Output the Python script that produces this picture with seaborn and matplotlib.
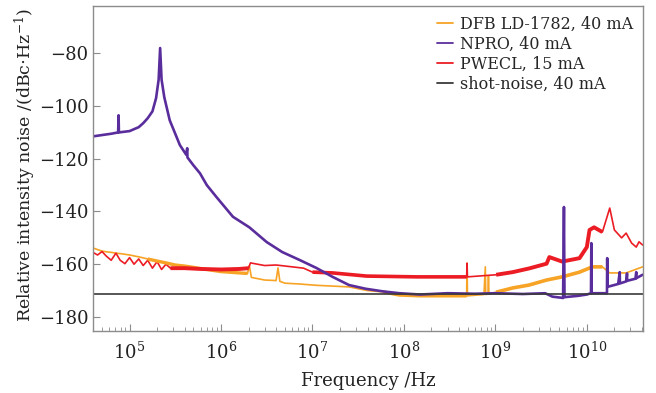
import numpy as np
import pandas as pd
import matplotlib
matplotlib.use("Agg")
import matplotlib.pyplot as plt
import matplotlib.ticker as mticker
from matplotlib.lines import Line2D
import seaborn as sns

# values (frequency in Hz, RIN in dBc/Hz)
dfb_f = [3.98e4, 4.5e4, 5.0e4, 5.6e4, 6.3e4, 7.1e4, 8e4, 1.0e5, 1.26e5, 1.58e5,
         2.0e5, 2.5e5, 3.16e5, 4e5, 5e5, 7e5, 1e6, 1.58e6, 1.95e6, 2.04e6,
         2.15e6, 3e6, 4.0e6, 4.2e6, 4.4e6, 5e6, 7.2e6, 1.1e7, 1.66e7, 2.5e7,
         4e7, 5.9e7, 8.9e7, 1.5e8, 3e8, 4.85e8, 4.9e8, 4.95e8, 7.5e8, 7.76e8,
         7.85e8, 8.3e8, 8.4e8, 8.5e8, 1.02e9, 1.55e9, 2.34e9, 3.63e9, 5.37e9, 8.32e9,
         1.15e10, 1.48e10, 1.78e10, 2.69e10, 4.07e10]
dfb_rin = [-153.8, -154.5, -155.0, -155.3, -155.5, -155.8, -156.0, -156.5, -157.2, -158.0,
           -158.8, -159.5, -160.3, -160.7, -161.2, -162.0, -162.8, -163.3, -163.5, -160.5,
           -165.0, -166.0, -166.2, -161.4, -166.5, -167.2, -167.5, -168.0, -168.3, -168.6,
           -170.0, -170.5, -171.7, -172.0, -172.0, -172.0, -159.6, -172.0, -171.5, -161.0,
           -171.5, -171.3, -164.5, -171.3, -170.6, -169.0, -167.9, -166.0, -164.8, -163.0,
           -161.0, -161.0, -163.3, -163.3, -161.0]

npro_f = [3.98e4, 5.0e4, 6.3e4, 7.5e4, 7.59e4, 7.65e4, 1.0e5, 1.26e5, 1.41e5, 1.58e5,
          1.78e5, 1.95e5, 2.08e5, 2.16e5, 2.24e5, 2.4e5, 2.75e5, 3.16e5, 3.55e5, 4.17e5,
          4.27e5, 4.3e5, 5.0e5, 5.89e5, 7.0e5, 8.91e5, 1.35e6, 2.04e6, 3.16e6, 4.68e6,
          7.24e6, 1.1e7, 1.66e7, 2.51e7, 3.8e7, 5.89e7, 8.91e7, 1.5e8, 3e8, 6e8,
          1e9, 2e9, 3.5e9, 4.2e9, 5.5e9, 5.62e9, 5.7e9, 8e9, 1.0e10, 1.11e10,
          1.12e10, 1.13e10, 1.38e10, 1.66e10, 1.67e10, 1.68e10, 2.2e10, 2.29e10, 2.3e10, 2.7e10,
          2.75e10, 2.76e10, 3.4e10, 3.47e10, 3.48e10, 4.07e10]
npro_rin = [-111.5, -111.0, -110.5, -110.0, -103.5, -110.0, -109.5, -108.0, -106.5, -104.6,
            -102.0, -97.0, -90.0, -78.0, -90.0, -96.7, -105.4, -110.5, -114.8, -118.5,
            -116.0, -119.5, -122.5, -125.5, -130.0, -134.5, -142.0, -146.0, -151.6, -155.4,
            -158.4, -161.4, -164.8, -167.9, -169.3, -170.3, -171.0, -171.5, -171.0, -171.2,
            -171.0, -171.3, -171.0, -172.3, -172.8, -138.3, -172.5, -172.0, -171.5, -171.0,
            -152.0, -171.0, -171.0, -171.0, -157.7, -168.6, -167.5, -163.0, -167.3, -166.5,
            -163.5, -166.3, -165.5, -163.0, -165.3, -164.0]

pwecl_f = [3.98e4, 4.47e4, 5.0e4, 5.6e4, 6.3e4, 7.1e4, 7.9e4, 8.9e4, 1.0e5, 1.12e5,
           1.26e5, 1.41e5, 1.58e5, 1.78e5, 2.0e5, 2.24e5, 2.5e5, 2.8e5, 4e5, 6e5,
           1e6, 1.58e6, 2.0e6, 2.1e6, 3.0e6, 4.0e6, 6.0e6, 8.0e6, 1.0e7, 1.66e7,
           3.9e7, 1.4e8, 3.16e8, 4.85e8, 4.9e8, 4.95e8, 1.02e9, 1.55e9, 2.34e9, 3.63e9,
           3.89e9, 5.37e9, 8.32e9, 1.0e10, 1.07e10, 1.2e10, 1.48e10, 1.78e10, 2.0e10, 2.4e10,
           2.69e10, 3.09e10, 3.47e10, 3.72e10, 4.07e10]
pwecl_rin = [-155.5, -156.5, -155.2, -157.0, -158.5, -155.8, -158.5, -159.8, -157.5, -160.0,
             -158.0, -160.5, -158.5, -161.5, -159.0, -162.0, -160.0, -161.5, -161.5, -161.8,
             -162.0, -161.8, -161.5, -159.5, -160.5, -160.3, -161.0, -161.5, -163.0, -163.3,
             -164.5, -164.8, -164.8, -164.8, -159.6, -164.8, -164.0, -163.0, -161.6, -159.8,
             -157.3, -159.0, -157.7, -153.5, -147.0, -146.0, -147.8, -138.7, -147.0, -150.0,
             -148.2, -152.0, -153.5, -151.5, -152.7]

shot_noise = -171.2

labels = ["DFB LD-1782, 40 mA", "NPRO, 40 mA", "PWECL, 15 mA", "shot-noise, 40 mA"]
colors = ["#F7A325", "#5A2D9C", "#EC1C24", "#3a3a3a"]
x_ticks = [1e5, 1e6, 1e7, 1e8, 1e9, 1e10]

sns.set_theme(style="white")
plt.rcParams["font.family"] = ["DejaVu Serif"]
plt.rcParams["mathtext.fontset"] = "dejavuserif"
plt.rcParams["axes.unicode_minus"] = True

fig = plt.figure(figsize=(6.56, 3.93), dpi=100)
ax = fig.add_axes([0.142, 0.158, 0.838, 0.827])


def thick(f, r, lo, hi, c, lw):
    # noisy stretches of a trace drawn as a wider band
    d = pd.DataFrame({"f": f, "rin": r})
    d = d[(d.f >= lo) & (d.f <= hi)]
    ax.plot(d.f, d.rin, color=c, lw=lw, solid_capstyle="butt")


for f, r, c, lw in [(dfb_f, dfb_rin, colors[0], 1.2),
                    (pwecl_f, pwecl_rin, colors[2], 1.2)]:
    d = pd.DataFrame({"f": f, "rin": r})
    sns.lineplot(data=d, x="f", y="rin", ax=ax, color=c, lw=lw,
                 estimator=None, sort=False)

thick(dfb_f, dfb_rin, 1.5e5, 1.95e6, colors[0], 2.4)
thick(dfb_f, dfb_rin, 5e7, 4.85e8, colors[0], 2.4)
thick(dfb_f, dfb_rin, 1.02e9, 1.5e10, colors[0], 2.6)
thick(pwecl_f, pwecl_rin, 2.8e5, 2.0e6, colors[2], 2.8)
thick(pwecl_f, pwecl_rin, 1.0e7, 4.85e8, colors[2], 2.6)
thick(pwecl_f, pwecl_rin, 1.02e9, 1.48e10, colors[2], 2.8)

d = pd.DataFrame({"f": npro_f, "rin": npro_rin})
sns.lineplot(data=d, x="f", y="rin", ax=ax, color=colors[1], lw=1.9,
             estimator=None, sort=False)
ax.axhline(shot_noise, color=colors[3], lw=1.2)

hl = [Line2D([], [], color=c, lw=1.3) for c in colors]
leg = ax.legend(hl, labels, loc="upper right", frameon=True, fontsize=11.5,
                handlelength=1.0, handletextpad=0.45, labelspacing=0.2,
                borderaxespad=0.15, borderpad=0.45, fancybox=False)
leg.get_frame().set_edgecolor("none")
leg.get_frame().set_facecolor("white")

ax.set_xscale("log")
ax.set_xlim(4.0e4, 4.1e10)
ax.set_ylim(-185.3, -62.0)
ax.set_yticks([-80, -100, -120, -140, -160, -180])
ax.xaxis.set_major_locator(mticker.FixedLocator(x_ticks))
ax.xaxis.set_major_formatter(mticker.LogFormatterSciNotation())
minor = [m * t for t in [1e4] + x_ticks for m in range(2, 10)]
minor = [m for m in minor if 4.0e4 <= m <= 4.1e10]
ax.xaxis.set_minor_locator(mticker.FixedLocator(minor))
ax.xaxis.set_minor_formatter(mticker.NullFormatter())

for s in ax.spines.values():
    s.set_color("#8c8c8c")
    s.set_linewidth(1.0)
ax.tick_params(axis="both", which="both", direction="in", colors="#8c8c8c",
               labelcolor="#222222", labelsize=13)
ax.tick_params(axis="both", which="major", length=5, width=0.8, bottom=True, left=True)
ax.tick_params(axis="x", which="minor", length=3, width=0.6, bottom=True)
ax.tick_params(axis="x", pad=8)

ax.set_xlabel("Frequency /Hz", fontsize=13, color="#222222", labelpad=6)
ax.set_ylabel("Relative intensity noise /(dBc$\\cdot$Hz$^{-1}$)", fontsize=12.5,
              color="#222222")
ax.yaxis.set_label_coords(-0.1, 0.51)

fig.savefig("out.png", dpi=100)
